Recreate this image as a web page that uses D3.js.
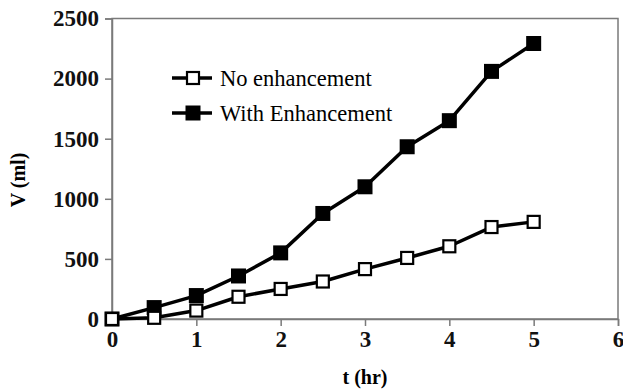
<!DOCTYPE html>
<html>
<head>
<meta charset="utf-8">
<script src="https://cdn.jsdelivr.net/npm/d3@7"></script>
<style>
  body { margin: 0; background: #fff; }
  svg { display: block; }
  text { font-family: "Liberation Serif", "Times New Roman", Times, serif; }
</style>
</head>
<body>
<svg id="chart" width="623" height="390"></svg>
<script>
// data
const tHours = [0, 0.5, 1, 1.5, 2, 2.5, 3, 3.5, 4, 4.5, 5];
const noEnhancement = [0, 10, 70, 185, 250, 312, 415, 508, 605, 765, 808];
const withEnhancement = [0, 95, 195, 358, 550, 878, 1100, 1433, 1650, 2060, 2292];
const xTicks = [0, 1, 2, 3, 4, 5, 6];
const yTicks = [0, 500, 1000, 1500, 2000, 2500];
const seriesNames = ['No enhancement', 'With Enhancement'];

const serif = '"Liberation Serif", "Times New Roman", Times, serif';

const svg = d3.select('#chart');
const margin = {top: 18.5, right: 5, bottom: 71, left: 112};
const width = 623 - margin.left - margin.right;
const height = 390 - margin.top - margin.bottom;

const x = d3.scaleLinear().domain([0, 6]).range([0, width]);
const y = d3.scaleLinear().domain([0, 2500]).range([height, 0]);

const g = svg.append('g').attr('transform', `translate(${margin.left},${margin.top})`);

// frame
g.append('rect')
    .attr('x', 0).attr('y', 0)
    .attr('width', width).attr('height', height)
    .attr('fill', 'none')
    .attr('stroke', '#7a7a7a')
    .attr('stroke-width', 1.5);

const xAxis = g.append('g')
    .attr('transform', `translate(0,${height})`)
    .call(d3.axisBottom(x).tickValues(xTicks).tickSize(7).tickPadding(5).tickFormat(d3.format('d')));
const yAxis = g.append('g')
    .call(d3.axisLeft(y).tickValues(yTicks).tickSize(7).tickPadding(6).tickFormat(d3.format('d')));

[xAxis, yAxis].forEach(ax => {
    ax.attr('font-family', serif).attr('font-size', 23).attr('font-weight', 'bold');
    ax.select('.domain').attr('stroke', '#7a7a7a').attr('stroke-width', 1.5);
    ax.selectAll('.tick line').attr('stroke', '#7a7a7a').attr('stroke-width', 1.5);
    ax.selectAll('.tick text').attr('fill', '#111');
});

// axis titles
svg.append('text')
    .attr('x', 365).attr('y', 384)
    .attr('text-anchor', 'middle')
    .attr('font-family', serif)
    .attr('font-weight', 'bold')
    .attr('font-size', 20)
    .text('t (hr)');

svg.append('text')
    .attr('transform', 'translate(25,180) rotate(-90)')
    .attr('text-anchor', 'middle')
    .attr('font-family', serif)
    .attr('font-weight', 'bold')
    .attr('font-size', 20)
    .text('V (ml)');

const line = d3.line()
    .x(d => x(d[0]))
    .y(d => y(d[1]));

const series = [
    {name: seriesNames[0], values: noEnhancement, fill: '#fff'},
    {name: seriesNames[1], values: withEnhancement, fill: '#000'}
];

// filled series drawn first so open markers sit on top near origin
series.slice().reverse().forEach(s => {
    const pts = tHours.map((t, i) => [t, s.values[i]]);
    g.append('path')
        .datum(pts)
        .attr('fill', 'none')
        .attr('stroke', '#000')
        .attr('stroke-width', 3.5)
        .attr('stroke-linejoin', 'round')
        .attr('d', line);
});

series.slice().reverse().forEach(s => {
    const pts = tHours.map((t, i) => [t, s.values[i]]);
    const sz = s.fill === '#000' ? 15 : 12;
    g.selectAll(null)
        .data(pts)
        .enter().append('rect')
        .attr('x', d => x(d[0]) - sz / 2)
        .attr('y', d => y(d[1]) - sz / 2)
        .attr('width', sz)
        .attr('height', sz)
        .attr('fill', s.fill)
        .attr('stroke', '#000')
        .attr('stroke-width', s.fill === '#000' ? 0 : 2.2);
});

// legend
const legend = svg.append('g');
series.forEach((s, i) => {
    const ly = 78 + i * 35;
    legend.append('line')
        .attr('x1', 172).attr('x2', 212)
        .attr('y1', ly).attr('y2', ly)
        .attr('stroke', '#000')
        .attr('stroke-width', 3.5);
    const sz = s.fill === '#000' ? 15 : 12;
    legend.append('rect')
        .attr('x', 193 - sz / 2).attr('y', ly - sz / 2)
        .attr('width', sz).attr('height', sz)
        .attr('fill', s.fill)
        .attr('stroke', '#000')
        .attr('stroke-width', s.fill === '#000' ? 0 : 2.2);
    legend.append('text')
        .attr('x', 220).attr('y', ly)
        .attr('dy', '0.35em')
        .attr('font-family', serif)
        .attr('font-size', 22.5)
        .text(s.name);
});
</script>
</body>
</html>
